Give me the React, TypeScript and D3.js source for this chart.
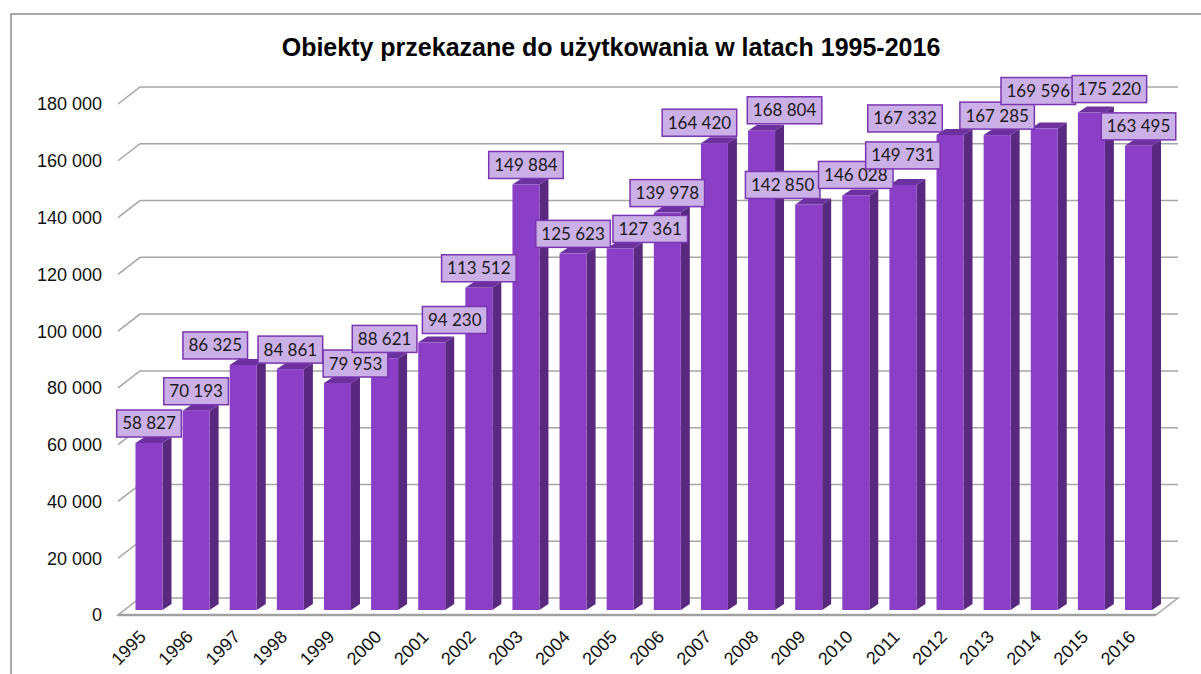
import React, { useEffect, useRef } from 'react';
import * as d3 from 'd3';

const title = 'Obiekty przekazane do użytkowania w latach 1995-2016';
const years = ['1995', '1996', '1997', '1998', '1999', '2000', '2001', '2002', '2003', '2004', '2005',
    '2006', '2007', '2008', '2009', '2010', '2011', '2012', '2013', '2014', '2015', '2016'];
const values = [58827, 70193, 86325, 84861, 79953, 88621, 94230, 113512, 149884, 125623, 127361,
    139978, 164420, 168804, 142850, 146028, 149731, 167332, 167285, 169596, 175220, 163495];
const yTicks = [0, 20000, 40000, 60000, 80000, 100000, 120000, 140000, 160000, 180000];

// where the labels were pushed aside to avoid overlapping (px)
const labelShiftX = [0, 0, -28, 0, 18, 0, 23, 0, 0, 0, 30, 0, -15, 23, -26, 0, 0, -45, 0, -6, 18, 0];
const labelShiftY = [0, 0, 0, 0, 0, 0, -3, 0, 0, 0, 0, 0, -1, -1, 0, -1, -10, 3, 0, -18, -4, 0];

const fmt = d3.formatLocale({ thousands: ' ', grouping: [3], decimal: ',', currency: ['', ''] }).format(',');

export default function App() {
    const svgRef = useRef<SVGSVGElement>(null);

    useEffect(() => {
        const svg = d3.select(svgRef.current);
        svg.selectAll('*').remove();

        const width = 1201;
        const height = 674;
        const depthX = 22;   // wall depth
        const depthY = 17;
        const barW = 27;
        const barDX = 9;     // bar depth
        const barDY = 6;
        const backOffset = 12;

        svg.attr('width', width).attr('height', height);

        const x = d3.scalePoint<string>().domain(years).range([149, 1138.5]);
        const y = d3.scaleLinear().domain([0, 180000]).range([610, 99]);
        const back = (v: number) => y(v) - backOffset;
        const wallLeft = 140;
        const wallRight = 1178;

        // frame
        svg.append('rect')
            .attr('x', 11).attr('y', 14)
            .attr('width', 1300).attr('height', 800)
            .attr('fill', 'white')
            .attr('stroke', '#8c8c8c')
            .attr('stroke-width', 1.5);

        // title
        svg.append('text')
            .attr('x', 611).attr('y', 56)
            .attr('text-anchor', 'middle')
            .style('font-family', '"Liberation Sans", Arial, sans-serif')
            .style('font-size', '25px')
            .style('font-weight', 'bold')
            .text(title);

        // floor
        const floorBack = back(0);
        svg.append('path')
            .attr('d', `M${wallLeft - depthX},${floorBack + depthY} L${wallRight - depthX},${floorBack + depthY} L${wallRight},${floorBack} L${wallLeft},${floorBack} Z`)
            .attr('fill', 'white')
            .attr('stroke', '#a6a6a6')
            .attr('stroke-width', 1.5);
        svg.append('line')
            .attr('x1', wallLeft - depthX).attr('x2', wallRight - depthX)
            .attr('y1', floorBack + depthY).attr('y2', floorBack + depthY)
            .attr('stroke', '#a0a0a0').attr('stroke-width', 2.5);

        // gridlines
        const grid = svg.append('g');
        yTicks.forEach((t) => {
            const yb = back(t);
            if (t > 0) {
                grid.append('path')
                    .attr('d', `M${wallLeft - depthX},${yb + depthY} L${wallLeft},${yb} L${wallRight},${yb}`)
                    .attr('fill', 'none')
                    .attr('stroke', '#a6a6a6')
                    .attr('stroke-width', 1.5);
            }
            grid.append('text')
                .attr('x', 102)
                .attr('y', yb + depthY)
                .attr('dy', '0.36em')
                .attr('text-anchor', 'end')
                .style('font-family', '"Liberation Sans", Arial, sans-serif')
                .style('font-size', '18px')
                .attr('fill', '#111')
                .text(t === 0 ? '0' : fmt(t));
        });

        // bars
        const bars = svg.append('g');
        years.forEach((yr, i) => {
            const cx = x(yr) as number;
            const x0 = cx - barW / 2;
            const x1 = cx + barW / 2;
            const yt = y(values[i]);
            const yb = y(0);
            bars.append('path')
                .attr('d', `M${x1},${yt} L${x1 + barDX},${yt - barDY} L${x1 + barDX},${yb - barDY} L${x1},${yb} Z`)
                .attr('fill', '#59287f');
            bars.append('path')
                .attr('d', `M${x0},${yt} L${x0 + barDX},${yt - barDY} L${x1 + barDX},${yt - barDY} L${x1},${yt} Z`)
                .attr('fill', '#6c309f');
            bars.append('rect')
                .attr('x', x0).attr('y', yt)
                .attr('width', barW).attr('height', yb - yt)
                .attr('fill', '#8a3fc6');
        });

        // x labels
        years.forEach((yr) => {
            const cx = x(yr) as number;
            svg.append('text')
                .attr('transform', `translate(${cx - 2},${638}) rotate(-45)`)
                .attr('text-anchor', 'end')
                .style('font-family', '"Liberation Sans", Arial, sans-serif')
                .style('font-size', '18px')
                .attr('fill', '#111')
                .text(yr);
        });

        // data labels
        const labels = svg.append('g');
        years.forEach((yr, i) => {
            const cx = (x(yr) as number) + labelShiftX[i];
            const bottom = y(values[i]) - 6 + labelShiftY[i];
            const g = labels.append('g');
            const rect = g.append('rect');
            const txt = g.append('text')
                .attr('x', cx)
                .attr('y', bottom - 7.5)
                .attr('text-anchor', 'middle')
                .style('font-family', 'Lato, "Open Sans", sans-serif')
                .style('font-size', '17px')
                .attr('fill', '#1a1a1a')
                .text(fmt(values[i]));
            const w = (txt.node() as SVGTextElement).getComputedTextLength() + 11;
            rect.attr('x', cx - w / 2).attr('y', bottom - 27)
                .attr('width', w).attr('height', 27)
                .attr('fill', '#cbb0e7')
                .attr('stroke', '#7a35b0')
                .attr('stroke-width', 1.5);
        });
    }, []);

    return (
        <svg ref={svgRef} style={{ position: 'absolute', left: 0, top: 0 }} />
    );
}
